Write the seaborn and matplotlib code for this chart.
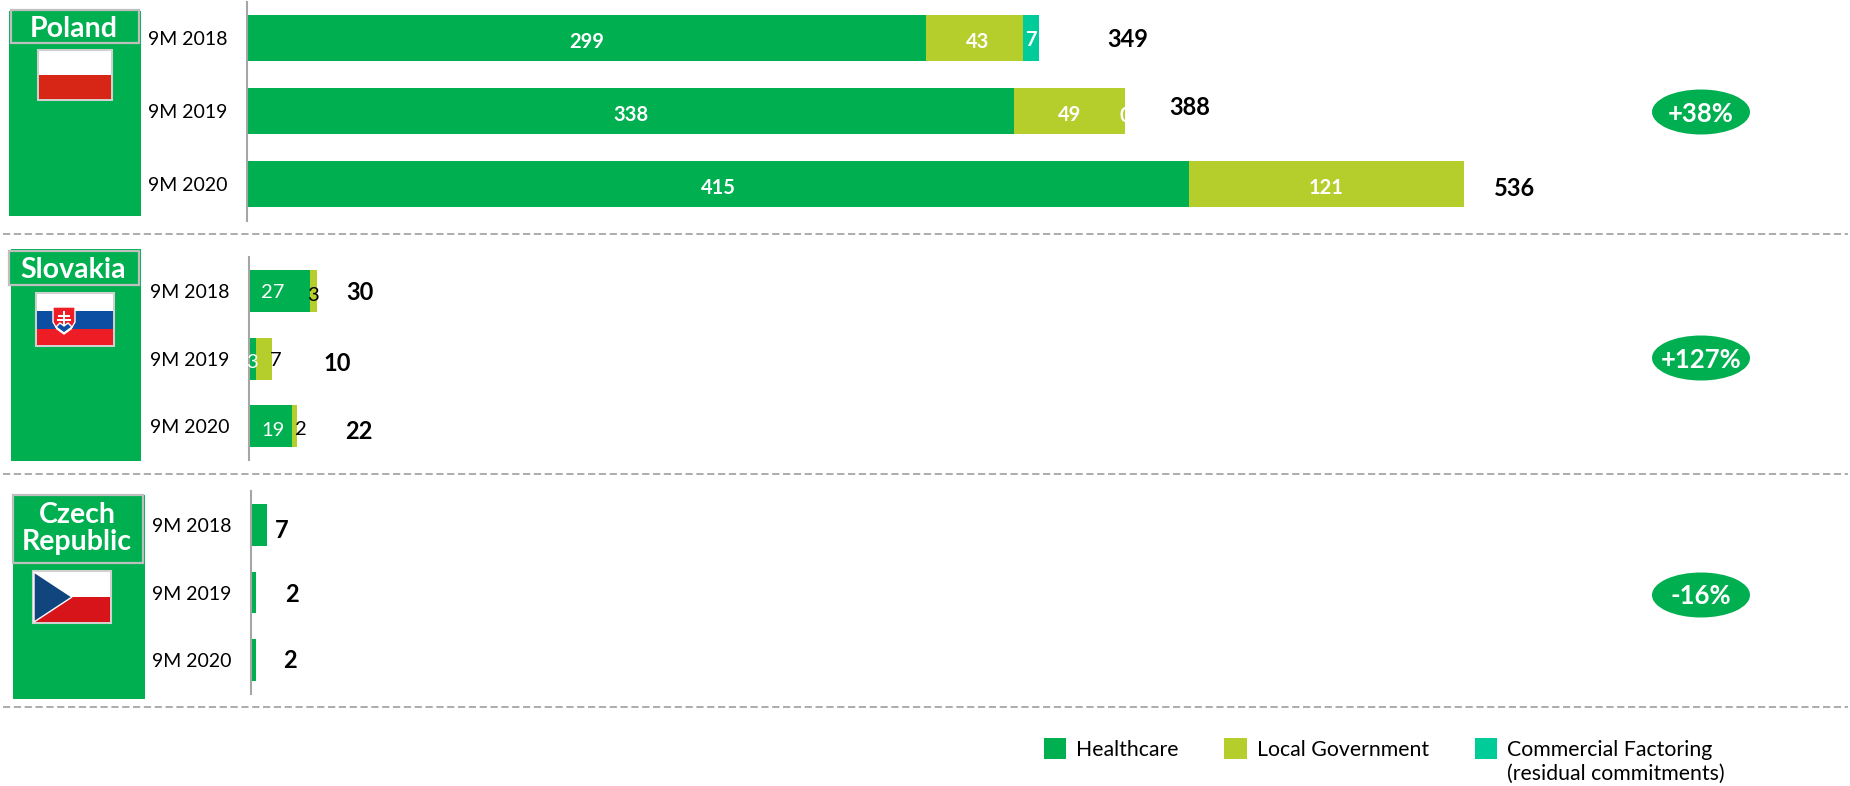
import numpy as np
import pandas as pd
import matplotlib
matplotlib.use("Agg")
import matplotlib.pyplot as plt
import seaborn as sns
from matplotlib.patches import Rectangle, Ellipse, Polygon, Patch

W, H = 1850, 786
GREEN, LIME, TEAL = "#00AF50", "#B5CE2B", "#00CC99"
FONT = "Lato"

periods = ["9M 2018", "9M 2019", "9M 2020"]
segments = ["Healthcare", "Local Government", "Commercial Factoring"]

poland_healthcare = [299, 338, 415]
poland_local = [43, 49, 121]
poland_commercial = [7, 0, 0]
poland_totals = [349, 388, 536]

slovakia_healthcare = [27, 3, 19]
slovakia_local = [3, 7, 2]
slovakia_totals = [30, 10, 22]

czech_healthcare = [7, 2, 2]
czech_totals = [7, 2, 2]

growth_labels = ["+38%", "+127%", "-16%"]

sns.set_theme(style="white")
plt.rcParams["font.family"] = [FONT, "DejaVu Sans"]
fig = plt.figure(figsize=(W / 100, H / 100), dpi=100, facecolor="white")

PX_PER_UNIT = 2.27


def make_axes(left, top, bottom, right=1500):
    ax = fig.add_axes([left / W, 1 - bottom / H, (right - left) / W, (bottom - top) / H])
    ax.patch.set_alpha(0)
    return ax


def stacked(ax, series, bar_frac):
    base = np.zeros(3)
    for vals, col in series:
        sns.barplot(x=vals, y=periods, left=base, orient="h", color=col, saturation=1,
                    width=bar_frac, ax=ax, edgecolor="none", linewidth=0, zorder=2)
        base = base + np.array(vals)
    ax.set_ylim(2.5, -0.5)
    left, right = ax.get_position().x0 * W, ax.get_position().x1 * W
    ax.set_xlim(0, (right - left) / PX_PER_UNIT)
    ax.set_xlabel("")
    ax.set_ylabel("")
    ax.set_xticks([])
    ax.tick_params(axis="y", length=0, pad=14, labelsize=14, labelcolor="black")
    for s in ("top", "right", "bottom"):
        ax.spines[s].set_visible(False)
    ax.spines["left"].set_color("#A6A6A6")
    ax.spines["left"].set_linewidth(1.5)
    ax.spines["left"].set_zorder(5)


def note(ax, txt, x, i, dx=0, dy=0, color="white", size=14.5, weight="bold", clip=None):
    t = ax.annotate(txt, xy=(x, i), xycoords="data", xytext=(dx, dy), textcoords="offset pixels",
                    ha="center", va="center", color=color, fontsize=size, fontweight=weight, zorder=6)
    if clip is not None:
        t.set_clip_path(clip)
        t.set_clip_on(True)
    return t


# ---- Poland
ax_pl = make_axes(247, 1.5, 220.5)
stacked(ax_pl, [(poland_healthcare, GREEN), (poland_local, LIME), (poland_commercial, TEAL)], 0.63)
for i in range(3):
    h, l, c = poland_healthcare[i], poland_local[i], poland_commercial[i]
    note(ax_pl, str(h), h / 2, i, dy=-3.5)
    note(ax_pl, str(l), h + l / 2, i, dy=-3.5, dx=3 if i == 0 else 0)
note(ax_pl, str(poland_commercial[0]), poland_healthcare[0] + poland_local[0] + 3.5, 0, dy=-1.5)
lime_bar_2019 = ax_pl.containers[1][1]
note(ax_pl, "0", poland_totals[1], 1, dx=-2, dy=-5, clip=lime_bar_2019)
for i, (t, dx, dy) in enumerate(zip(poland_totals, [89, 62, 51], [-1.4, 4, -4])):
    note(ax_pl, str(t), t, i, dx=dx, dy=dy, color="black", size=17)

# ---- Slovakia
ax_sk = make_axes(249, 257, 460.3)
stacked(ax_sk, [(slovakia_healthcare, GREEN), (slovakia_local, LIME)], 0.62)
note(ax_sk, "27", 27 / 2, 0, dx=-7, dy=-1.5, weight="normal")
note(ax_sk, "3", 28.5, 0, dx=-1, dy=-4.5, color="black", weight="normal")
note(ax_sk, "3", 1.5, 1, dy=-3.5, weight="normal")
note(ax_sk, "7", 6.5, 1, dx=12, dy=-2, color="black", weight="normal")
note(ax_sk, "19", 9.5, 2, dx=2, dy=-4, weight="normal")
note(ax_sk, "2", 20, 2, dx=6, dy=-3, color="black", weight="normal")
for i, (t, dx, dy) in enumerate(zip(slovakia_totals, [43, 66, 60], [-1.5, -4.5, -5])):
    note(ax_sk, str(t), t, i, dx=dx, dy=dy, color="black", size=17)

# ---- Czech Republic
ax_cz = make_axes(251, 491, 694)
stacked(ax_cz, [(czech_healthcare, GREEN)], 0.62)
for i, (t, dx, dy) in enumerate(zip(czech_totals, [15, 36, 34], [-5.5, -2, 0])):
    note(ax_cz, str(t), t, i, dx=dx, dy=dy, color="black", size=17)

# ---- Decorations in pixel space
ov = fig.add_axes([0, 0, 1, 1], zorder=10)
ov.set_xlim(0, W)
ov.set_ylim(H, 0)
ov.axis("off")
ov.patch.set_alpha(0)


def rect(x0, y0, x1, y1, fc, ec="none", lw=0, z=1):
    ov.add_patch(Rectangle((x0, y0), x1 - x0, y1 - y0, fc=fc, ec=ec, lw=lw, zorder=z))


BORDER = "#BFBFBF"
# panels
panel_boxes = [(9, 11, 141, 216), (11, 249, 141, 461), (13, 495, 145, 699)]
title_boxes = [(11, 10, 139, 43), (9, 251, 139, 285), (13, 495, 143, 563)]
titles = ["Poland", "Slovakia", "Czech\nRepublic"]
title_dy = [2.5, 1.5, -0.5]
for (a, b, c, d), (e, f, g, k), name, tdy in zip(panel_boxes, title_boxes, titles, title_dy):
    rect(a, b, c, d, GREEN)
    rect(e, f, g, k, GREEN, ec=BORDER, lw=1.6, z=2)
    ov.text((e + g) / 2 - 1, (f + k) / 2 + tdy, name, ha="center", va="center", color="white",
            fontsize=20.5, fontweight="bold", linespacing=1.05, zorder=3)

# Polish flag
rect(38, 50, 112, 100, "white", ec="#D0D0D0", lw=1.5, z=2)
rect(39, 75, 111, 99, "#D72516", z=3)
# Slovak flag
rect(36, 293, 114, 346, "white", ec="#D0D0D0", lw=1.5, z=2)
rect(37, 311, 113, 329, "#0B4EA2", z=3)
rect(37, 329, 113, 345, "#EE1C25", z=3)
ov.add_patch(Polygon([(53, 307), (75, 307), (75, 322), (71, 329), (64, 334), (57, 329), (53, 322)],
                     fc="#EE1C25", ec="white", lw=1, zorder=4))
ov.add_patch(Polygon([(56, 327), (60, 323), (64, 326), (68, 323), (72, 327), (64, 333)],
                     fc="#0B4EA2", zorder=5))
rect(62.7, 311, 65.3, 325, "white", z=5)
rect(58, 314.5, 70, 316.5, "white", z=5)
rect(57, 319, 71, 321, "white", z=5)
# Czech flag
rect(33, 571, 111, 623, "white", ec="#D0D0D0", lw=1.5, z=2)
rect(34, 597, 110, 622, "#D7141A", z=3)
ov.add_patch(Polygon([(34, 572), (72, 597), (34, 622)], fc="#11457E", zorder=4))

# separators
for y in (233.5, 474, 707):
    ov.plot([3, 1848], [y, y], color="#A6A6A6", lw=1.3, ls=(0, (4, 2)), zorder=1)

# growth ovals
for (cx, cy, w), lab in zip([(1701, 112, 98), (1701, 358, 98), (1701, 595, 98)], growth_labels):
    ov.add_patch(Ellipse((cx, cy), w, 45, fc=GREEN, ec="none", zorder=2))
    ov.text(cx, cy + 1.5, lab, ha="center", va="center", color="white", fontsize=18.5, fontweight="bold", zorder=3)

# legend
handles = [Patch(fc=c, ec="none") for c in (GREEN, LIME, TEAL)]
leg = fig.legend(handles, segments, loc="upper left",
                 bbox_to_anchor=(1044 / W, 1 - 738 / H), bbox_transform=fig.transFigure,
                 ncol=3, frameon=False, fontsize=15.3, borderaxespad=0, borderpad=0,
                 handlelength=1.04, handleheight=1.13, handletextpad=0.47, columnspacing=2.16,
                 labelcolor="black")
fig.canvas.draw()
ext = leg.get_texts()[2].get_window_extent()
ov.text(ext.x0, 774, "(residual commitments)", ha="left", va="center", color="black", fontsize=15.3)

fig.savefig("out.png", dpi=100, facecolor="white")
